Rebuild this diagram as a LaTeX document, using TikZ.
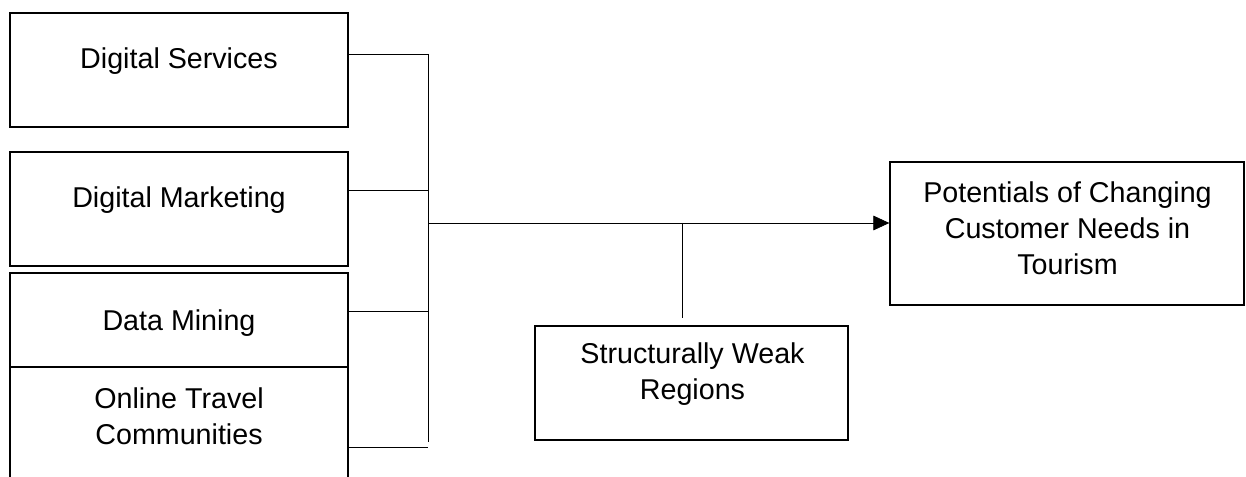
\documentclass[tikz,border=0pt]{standalone}
\usepackage{fontspec}
\setmainfont{Liberation Sans}
\usetikzlibrary{positioning,arrows.meta}

\tikzset{
  box/.style={draw, line width=1pt, minimum width=#1, inner sep=0pt},
  txt/.style={align=center, inner sep=0pt, font=\fontsize{21.5}{27}\selectfont},
  link/.style={line width=0.6pt}
}

\begin{document}
\begin{tikzpicture}[x=0.75pt, y=-0.75pt]
\clip (0,0) rectangle (1246,477);
\useasboundingbox (0,0) rectangle (1246,477);
% boxes on the left
\node[box=338*0.75pt, minimum height=114*0.75pt] (ds)   at (179,70)    {};
\node[box=338*0.75pt, minimum height=114*0.75pt] (dm)   at (179,209)   {};
\node[box=338*0.75pt, minimum height=94*0.75pt]  (dmin) at (179,320)   {};
\node[box=338*0.75pt, minimum height=133*0.75pt] (otc)  at (179,433.5) {};
% boxes on the right
\node[box=313*0.75pt, minimum height=114*0.75pt] (swr)  at (691.5,383) {};
\node[box=354*0.75pt, minimum height=143*0.75pt] (pot)  at (1067,233.5) {};
% texts
\node[txt, anchor=base] (dstext)   at (179,69)  {Digital Services};
\node[txt, anchor=base] (dmtext)   at (179,208) {Digital Marketing};
\node[txt, anchor=base] (dmintext) at (179,330) {Data Mining};
\node[txt] (otctext) at (179,416)    {Online Travel\\Communities};
\node[txt] (swrtext) at (692.5,374)  {Structurally Weak\\Regions};
\node[txt] (pottext) at (1067.5,228) {Potentials of Changing\\Customer Needs in\\Tourism};
% connectors
\coordinate (s1) at (428,54);
\coordinate (s2) at (428,190);
\coordinate (s3) at (428,311);
\coordinate (s4) at (428,447);
\coordinate (sb) at (428,442);
\coordinate (j)  at (428,223);
\coordinate (k)  at (682,223);
\coordinate (kb) at (682,318);
\draw[link] (s1 -| ds.east) -- (s1);
\draw[link] (s2 -| dm.east) -- (s2);
\draw[link] (s3 -| dmin.east) -- (s3);
\draw[link] (s4 -| otc.east) -- (s4);
\draw[link] (s1) -- (sb);
\draw[link, -{Triangle[length=12pt, width=11pt]}] (j) -- (j -| pot.west);
\draw[link] (k) -- (kb);
\end{tikzpicture}
\end{document}
